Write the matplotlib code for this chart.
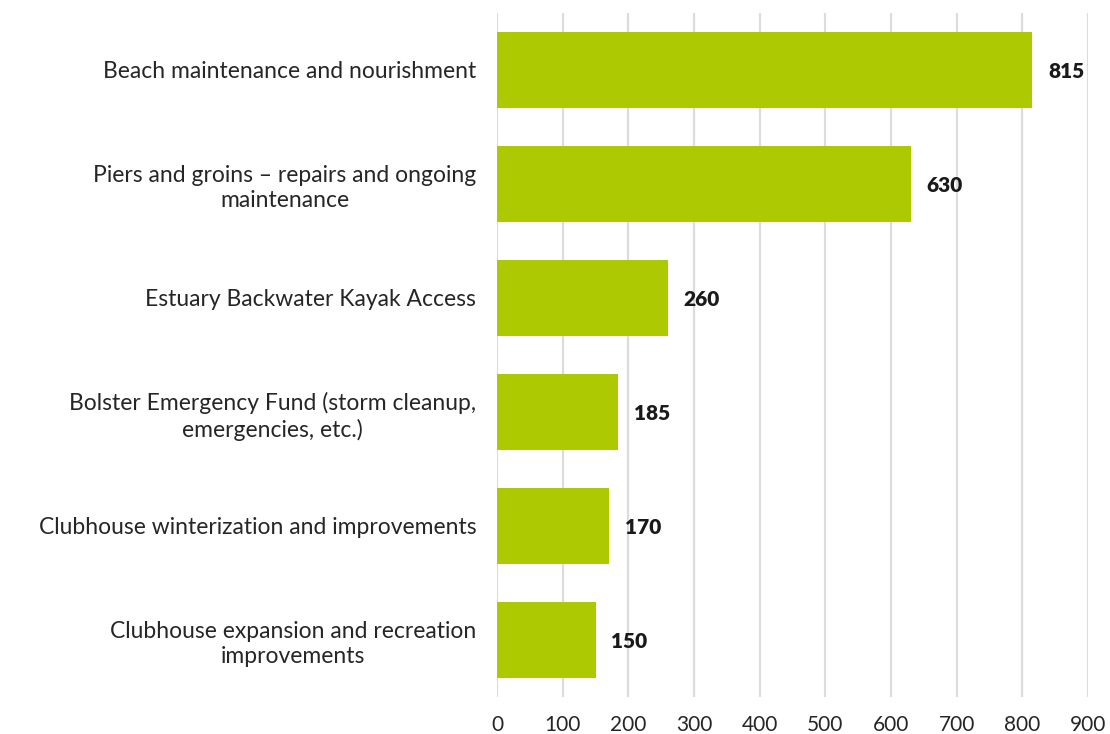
import matplotlib

matplotlib.use("Agg")

import matplotlib.pyplot as plt

categories = [
    "Beach maintenance and nourishment",
    "Piers and groins \u2013 repairs and ongoing\nmaintenance",
    "Estuary Backwater Kayak Access",
    "Bolster Emergency Fund (storm cleanup,\nemergencies, etc.)",
    "Clubhouse winterization and improvements",
    "Clubhouse expansion and recreation\nimprovements",
]
values = [815, 630, 260, 185, 170, 150]
x_ticks = [0, 100, 200, 300, 400, 500, 600, 700, 800, 900]

bar_color = "#adc902"
text_color = "#262626"

plt.rcParams["font.family"] = ["Lato", "DejaVu Sans"]

fig = plt.figure(figsize=(11.1, 7.34), dpi=100)
ax = fig.add_axes([497 / 1110, 37 / 734, 591 / 1110, 684 / 734])

positions = list(range(len(categories)))
ax.barh(positions, values, height=0.66, color=bar_color, zorder=2)

ax.set_ylim(len(categories) - 0.5, -0.5)
ax.set_xlim(0, 900)
ax.set_xticks(x_ticks)
ax.set_xticklabels([str(t) for t in x_ticks], fontsize=15, color=text_color)
ax.set_yticks(positions)
ax.set_yticklabels(categories, fontsize=16.5, color=text_color, linespacing=1.25)
for label in ax.get_yticklabels():
    label.set_multialignment("center")

ax.tick_params(axis="both", length=0)
ax.tick_params(axis="y", pad=15)
ax.tick_params(axis="x", pad=13)
ax.grid(axis="x", color="#dcdcdc", linewidth=1.6, zorder=0)
ax.set_axisbelow(True)
for spine in ax.spines.values():
    spine.set_visible(False)

for pos, val in zip(positions, values):
    ax.annotate(
        str(val),
        xy=(val, pos),
        xytext=(16, -2),
        textcoords="offset pixels",
        ha="left",
        va="center",
        fontsize=15,
        fontweight="heavy",
        color="#1a1a1a",
    )

fig.savefig("out.png", dpi=100)
plt.close(fig)
